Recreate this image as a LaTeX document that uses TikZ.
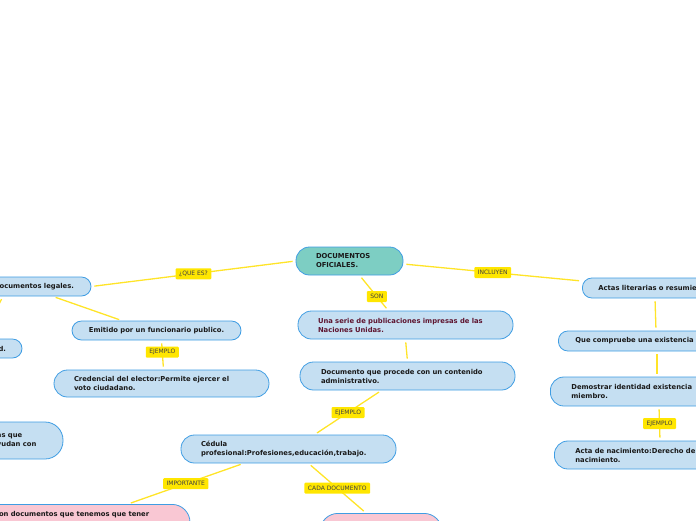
\documentclass[tikz,border=0pt]{standalone}
\usepackage{fontspec}
\setmainfont{DejaVu Sans}
\usetikzlibrary{calc}
\definecolor{topicfill}{HTML}{C5DFF2}
\definecolor{topicline}{HTML}{3F9DE3}
\definecolor{rootfill}{HTML}{7DCEC3}
\definecolor{pinkfill}{HTML}{F9C7D3}
\definecolor{tagfill}{HTML}{FFE600}
\definecolor{linkyellow}{HTML}{FFE428}
\definecolor{maroontext}{HTML}{5E1530}
\tikzset{
  topic/.style={draw=topicline,fill=topicfill,line width=0.8pt,rounded corners=9.5pt,
    font=\fontsize{6.8}{9}\selectfont\bfseries,text=black!90,align=left,
    inner xsep=2pt,inner ysep=2pt},
  twoline/.style={rounded corners=13.5pt},
  tag/.style={fill=tagfill,rounded corners=1pt,font=\fontsize{6}{7}\selectfont,
    text=black!75,inner xsep=3.5pt,inner ysep=0pt,minimum height=11pt},
  link/.style={draw=linkyellow,line width=1.3pt,shorten <=3pt,shorten >=3pt}
}
\begin{document}
\begin{tikzpicture}[x=1pt,y=-1pt]
  \useasboundingbox (0,0) rectangle (696,520);
  \clip (0,0) rectangle (696,520);
  % centre
  \node[topic,twoline,fill=rootfill,minimum width=107pt,minimum height=28pt,text width=67pt]
    (root) at (349.5,261) {DOCUMENTOS\\OFICIALES.};
  % left branch
  \node[topic,minimum width=112pt,minimum height=19pt,text width=82pt]
    (legales) at (35,286.5) {Documentos legales.};
  \node[topic,minimum width=169pt,minimum height=19pt,align=center]
    (emitido) at (156.5,330.5) {Emitido por un funcionario publico.};
  \node[topic,twoline,minimum width=215pt,minimum height=27pt,text width=175pt]
    (credencial) at (161.5,383.5) {Credencial del elector:Permite ejercer el\\voto ciudadano.};
  \node[topic,minimum width=82pt,minimum height=19pt,text width=50pt,align=right]
    (validez) at (-19,348.5) {d.};
  \node[topic,rounded corners=18pt,minimum width=88pt,minimum height=37pt,text width=44pt]
    (ayudan) at (19,440.5) {as que\\yudan con};
  % middle branch
  \node[topic,twoline,text=maroontext,minimum width=215pt,minimum height=28pt,text width=175pt]
    (unaserie) at (405.5,325) {Una serie de publicaciones impresas de las\\Naciones Unidas.};
  \node[topic,twoline,minimum width=215pt,minimum height=28pt,text width=173pt]
    (documento) at (407.5,376) {Documento que procede con un contenido\\administrativo.};
  \node[topic,twoline,minimum width=215pt,minimum height=28pt,text width=175pt]
    (cedula) at (288.5,449) {Cédula\\profesional:Profesiones,educación,trabajo.};
  \node[topic,rounded corners=18pt,fill=pinkfill,anchor=north,minimum width=220pt,
    text width=162pt,inner ysep=7pt,text depth=24pt]
    (tener) at (80,504) {on documentos que tenemos que tener};
  \node[topic,rounded corners=18pt,fill=pinkfill,anchor=north,minimum width=122pt,
    minimum height=40pt] (cada) at (381,513) {};
  % right branch
  \node[topic,anchor=west,minimum height=20pt,inner xsep=16pt,text width=150pt]
    (actas) at (582,288) {Actas literarias o resumie};
  \node[topic,anchor=west,minimum height=20pt,inner xsep=17pt,text width=150pt]
    (compruebe) at (558,341) {Que compruebe una existencia};
  \node[topic,twoline,anchor=west,minimum height=29pt,inner xsep=21pt,text width=150pt]
    (demostrar) at (550,391.5) {Demostrar identidad existencia\\miembro.};
  \node[topic,twoline,anchor=west,minimum height=28pt,inner xsep=21pt,text width=150pt]
    (nacimiento) at (554,455) {Acta de nacimiento:Derecho de\\nacimiento.};
  % connectors
  \draw[link] (root.west) -- node[tag]{¿QUE ES?} (legales.east);
  \draw[link] (root.-55) -- node[tag,pos=0.6]{SON} (unaserie.140);
  \draw[link] ($(root.east)+(0,3)$) -- node[tag]{INCLUYEN} ($(actas.west)+(0,-7)$);
  \draw[link] (legales.-29) -- (emitido.164.6);
  \draw[link] ($(legales.south)+(-32,0)$) -- (validez.north);
  \draw[link] ($(emitido.south)+(5,0)$) -- node[tag,pos=0.4]{EJEMPLO} ($(credencial.north)+(2,0)$);
  \draw[link] (unaserie.south) -- (documento.north);
  \draw[link] ($(documento.south)+(-26,0)$) -- node[tag]{EJEMPLO} ($(cedula.north)+(26,0)$);
  \draw[link] ($(cedula.south)+(-45,0)$) -- node[tag]{IMPORTANTE} ($(tener.north)+(48,0)$);
  \draw[link] ($(cedula.south)+(20,0)$) -- node[tag]{CADA DOCUMENTO} ($(cada.north)+(-15,0)$);
  \draw[link] ($(actas.south west)+(73,0)$) -- ($(compruebe.north west)+(98,0)$);
  \draw[link] ($(compruebe.south west)+(99,0)$) -- ($(demostrar.north west)+(107,0)$);
  \draw[link] ($(demostrar.south west)+(109,0)$) -- node[tag]{EJEMPLO} ($(nacimiento.north west)+(106,0)$);
\end{tikzpicture}
\end{document}
